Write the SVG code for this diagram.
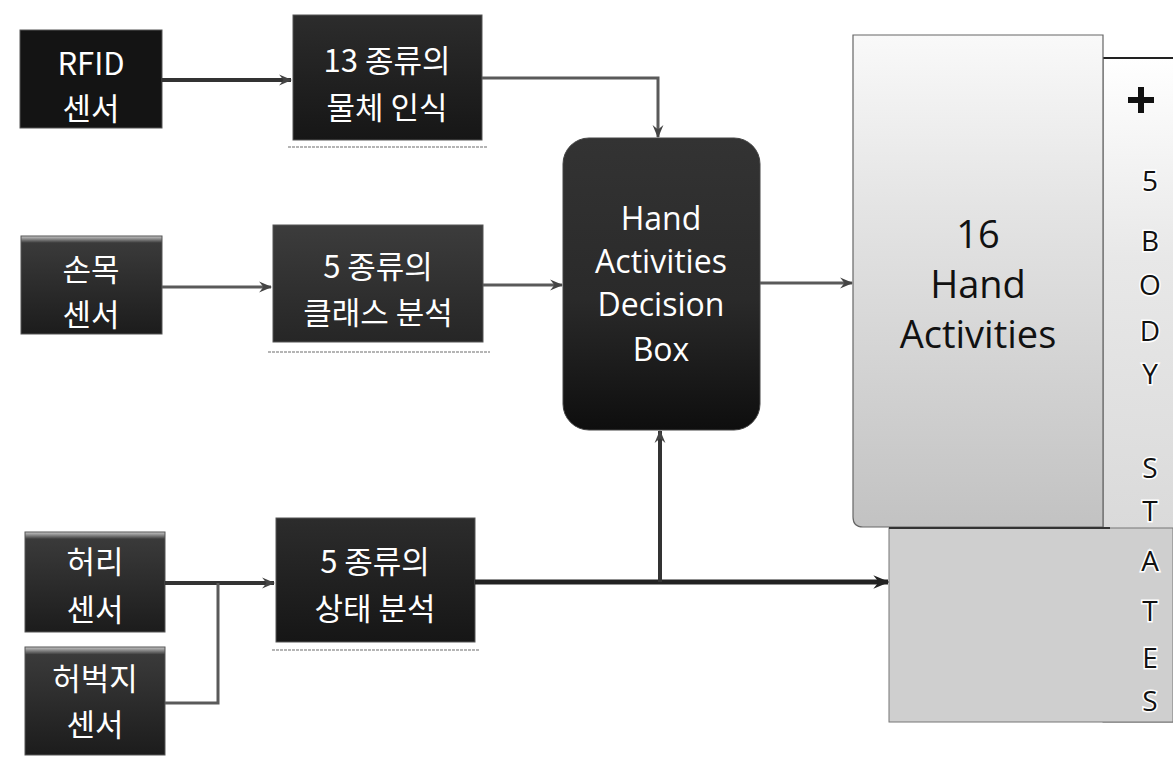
<svg xmlns="http://www.w3.org/2000/svg" width="1173" height="758" viewBox="0 0 1173 758">
  <defs>
    <style>
      .kr { font-family: "Noto Sans CJK KR", "Liberation Sans", sans-serif; font-size: 31px; fill: #ffffff; text-anchor: middle; dominant-baseline: central; }
      .en { font-family: "Open Sans", "Liberation Sans", sans-serif; font-size: 32px; fill: #ffffff; text-anchor: middle; dominant-baseline: central; }
      .big { font-family: "Open Sans", "Liberation Sans", sans-serif; font-size: 38px; fill: #111111; text-anchor: middle; dominant-baseline: central; }
      .side { font-family: "Open Sans", "Liberation Sans", sans-serif; font-size: 28px; fill: #111111; text-anchor: middle; dominant-baseline: central; stroke: #ffffff; stroke-width: 3px; paint-order: stroke; }
      .box { stroke: #555555; stroke-width: 1; }
      .shadow { stroke: #b5b5b5; stroke-width: 2; stroke-dasharray: 3 1; fill: none; }
      .wire { fill: none; stroke: #5a5a5a; stroke-width: 3; }
      .wire.dark { stroke: #333333; stroke-width: 4; }
      .wire.heavy { stroke: #222222; stroke-width: 5; }
    </style>
    <linearGradient id="gDark" x1="0" y1="0" x2="0" y2="1">
      <stop offset="0" stop-color="#2c2c2c"/>
      <stop offset="1" stop-color="#161616"/>
    </linearGradient>
    <linearGradient id="gSensor" x1="0" y1="0" x2="0" y2="1">
      <stop offset="0" stop-color="#c8c8c8"/>
      <stop offset="0.07" stop-color="#3a3a3a"/>
      <stop offset="1" stop-color="#1c1c1c"/>
    </linearGradient>
    <linearGradient id="gMid" x1="0" y1="0" x2="0" y2="1">
      <stop offset="0" stop-color="#3c3c3c"/>
      <stop offset="1" stop-color="#262626"/>
    </linearGradient>
    <linearGradient id="gDecision" x1="0" y1="0" x2="0" y2="1">
      <stop offset="0" stop-color="#333333"/>
      <stop offset="0.55" stop-color="#2a2a2a"/>
      <stop offset="1" stop-color="#0e0e0e"/>
    </linearGradient>
    <linearGradient id="gHand" x1="0" y1="0" x2="0" y2="1">
      <stop offset="0" stop-color="#f9f9f9"/>
      <stop offset="0.35" stop-color="#e4e4e4"/>
      <stop offset="1" stop-color="#c2c2c2"/>
    </linearGradient>
    <linearGradient id="gBody" x1="0" y1="0" x2="0" y2="1">
      <stop offset="0" stop-color="#ffffff"/>
      <stop offset="0.3" stop-color="#e8e8e8"/>
      <stop offset="1" stop-color="#d0d0d0"/>
    </linearGradient>
    <marker id="ah" viewBox="0 0 12 12" refX="11" refY="6" markerWidth="13" markerHeight="13" markerUnits="userSpaceOnUse" orient="auto">
      <path d="M0,1 L12,6 L0,11 L4,6 z" fill="#444444"/>
    </marker>
    <marker id="ahBig" viewBox="0 0 12 12" refX="11" refY="6" markerWidth="16" markerHeight="16" markerUnits="userSpaceOnUse" orient="auto">
      <path d="M0,1 L12,6 L0,11 L4,6 z" fill="#222222"/>
    </marker>
  </defs>

  <rect width="1173" height="758" fill="#ffffff"/>

  <!-- body-state column and the panels behind it -->
  <g id="body-states">
    <rect x="1103" y="58" width="80" height="664" fill="url(#gBody)" stroke="#666666" stroke-width="1"/>
    <line x1="1103" y1="58" x2="1173" y2="58" stroke="#222222" stroke-width="2"/>
  </g>

  <g id="hand-activities">
    <path d="M853,35 H1103 V527 H863 Q853,527 853,517 Z" fill="url(#gHand)" stroke="#666666" stroke-width="1.2"/>
    <text class="big" x="978" y="233">16</text>
    <text class="big" x="978" y="283">Hand</text>
    <text class="big" x="978" y="333">Activities</text>
  </g>

  <g id="body-state-panel">
    <rect x="889" y="528" width="284" height="194" fill="#cfcfcf" stroke="#777777" stroke-width="1"/>
    <line x1="889" y1="528" x2="1110" y2="528" stroke="#333333" stroke-width="2"/>
  </g>

  <g id="body-state-label">
    <path d="M1132,97 H1138 V87 H1144 V97 H1154 V103 H1144 V113 H1138 V103 H1128 V97 Z" fill="#111111"/>
    <text class="side" x="1150" y="180">5</text>
    <text class="side" x="1150" y="240">B</text>
    <text class="side" x="1150" y="284">O</text>
    <text class="side" x="1150" y="330">D</text>
    <text class="side" x="1150" y="373">Y</text>
    <text class="side" x="1150" y="467">S</text>
    <text class="side" x="1150" y="510">T</text>
    <text class="side" x="1150" y="560">A</text>
    <text class="side" x="1150" y="610">T</text>
    <text class="side" x="1150" y="657">E</text>
    <text class="side" x="1150" y="700">S</text>
  </g>

  <!-- sensors -->
  <g id="rfid-sensor">
    <rect class="box" x="20" y="30" width="142" height="98" fill="#141414"/>
    <text class="kr" x="91" y="61">RFID</text>
    <text class="kr" x="91" y="106">센서</text>
  </g>

  <g id="wrist-sensor">
    <rect class="box" x="21" y="236" width="141" height="98" fill="url(#gSensor)"/>
    <text class="kr" x="91" y="267">손목</text>
    <text class="kr" x="91" y="312">센서</text>
  </g>

  <g id="waist-sensor">
    <rect class="box" x="25" y="532" width="140" height="100" fill="url(#gSensor)"/>
    <text class="kr" x="95" y="559">허리</text>
    <text class="kr" x="95" y="607">센서</text>
  </g>

  <g id="thigh-sensor">
    <rect class="box" x="25" y="647" width="140" height="108" fill="url(#gSensor)"/>
    <text class="kr" x="95" y="676">허벅지</text>
    <text class="kr" x="95" y="722">센서</text>
  </g>

  <!-- analysis stages -->
  <g id="object-recognition">
    <rect class="box" x="293" y="15" width="189" height="125" fill="url(#gDark)"/>
    <line class="shadow" x1="288" y1="147" x2="488" y2="147"/>
    <text class="kr" x="387" y="58">13 종류의</text>
    <text class="kr" x="387" y="105">물체 인식</text>
  </g>

  <g id="class-analysis">
    <rect class="box" x="273" y="225" width="210" height="117" fill="url(#gMid)"/>
    <line class="shadow" x1="268" y1="352" x2="490" y2="352"/>
    <text class="kr" x="378" y="264">5 종류의</text>
    <text class="kr" x="378" y="310">클래스 분석</text>
  </g>

  <g id="state-analysis">
    <rect class="box" x="276" y="518" width="199" height="124" fill="url(#gDark)"/>
    <line class="shadow" x1="272" y1="650" x2="480" y2="650"/>
    <text class="kr" x="375" y="559">5 종류의</text>
    <text class="kr" x="375" y="606">상태 분석</text>
  </g>

  <g id="decision-box">
    <rect x="563" y="138" width="197" height="292" rx="26" ry="26" fill="url(#gDecision)" stroke="#444444" stroke-width="1"/>
    <text class="en" x="661" y="217">Hand</text>
    <text class="en" x="661" y="260">Activities</text>
    <text class="en" x="661" y="303">Decision</text>
    <text class="en" x="661" y="348">Box</text>
  </g>

  <!-- connectors -->
  <g id="connectors">
    <path class="wire dark" d="M162,80 H291" marker-end="url(#ah)"/>
    <path class="wire" d="M482,78 H658 V137" marker-end="url(#ah)"/>
    <path class="wire" d="M162,287 H271" marker-end="url(#ah)"/>
    <path class="wire" d="M483,285 H562" marker-end="url(#ah)"/>
    <path class="wire" d="M760,283 H852" marker-end="url(#ah)"/>
    <path class="wire dark" d="M165,583 H274" marker-end="url(#ah)"/>
    <path class="wire" d="M165,703 H218 V583"/>
    <path class="wire heavy" d="M475,582 H888" marker-end="url(#ahBig)"/>
    <path class="wire dark" d="M660,582 V431" marker-end="url(#ah)"/>
  </g>
</svg>
